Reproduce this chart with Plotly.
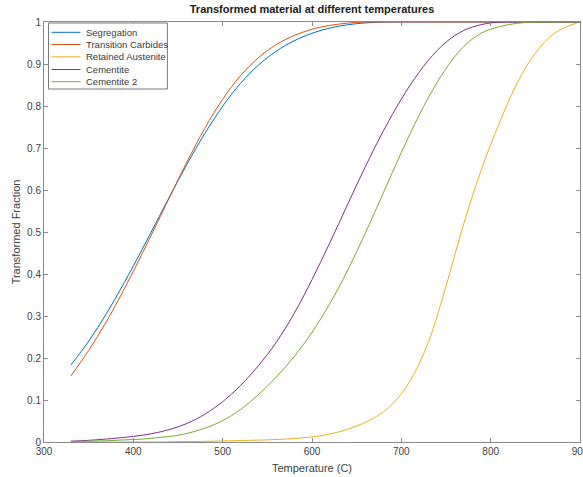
import plotly.graph_objects as go

# ---- data ----
temperature = [330, 350, 370, 390, 410, 430, 450, 470, 490, 510, 530, 550, 570, 590, 610,
               630, 650, 670, 690, 710, 730, 750, 770, 790, 810, 830, 850, 870, 890, 900]

segregation = [0.183, 0.240, 0.306, 0.380, 0.459, 0.541, 0.622, 0.699, 0.768, 0.828,
               0.877, 0.915, 0.944, 0.965, 0.980, 0.990, 0.996, 0.999, 1.0, 1.0,
               1.0, 1.0, 1.0, 1.0, 1.0, 1.0, 1.0, 1.0, 1.0, 1.0]

transition_carbides = [0.157, 0.218, 0.287, 0.365, 0.449, 0.536, 0.624, 0.708, 0.783, 0.846,
                       0.895, 0.932, 0.958, 0.976, 0.988, 0.995, 0.999, 1.0, 1.0, 1.0,
                       1.0, 1.0, 1.0, 1.0, 1.0, 1.0, 1.0, 1.0, 1.0, 1.0]

retained_austenite = [0.0, 0.0, 0.0, 0.0, 0.0, 0.0, 0.001, 0.001, 0.002, 0.003,
                      0.004, 0.005, 0.007, 0.010, 0.015, 0.024, 0.038, 0.058, 0.090, 0.146,
                      0.236, 0.371, 0.521, 0.651, 0.761, 0.856, 0.926, 0.971, 0.993, 1.0]

cementite = [0.002, 0.004, 0.007, 0.011, 0.016, 0.024, 0.036, 0.054, 0.080, 0.114,
             0.157, 0.208, 0.270, 0.345, 0.430, 0.520, 0.612, 0.700, 0.780, 0.850,
             0.908, 0.952, 0.980, 0.994, 1.0, 1.0, 1.0, 1.0, 1.0, 1.0]

cementite_2 = [0.001, 0.002, 0.003, 0.005, 0.007, 0.011, 0.016, 0.026, 0.041, 0.063,
               0.094, 0.133, 0.178, 0.231, 0.294, 0.368, 0.453, 0.546, 0.642, 0.735,
               0.819, 0.889, 0.942, 0.974, 0.989, 0.997, 1.0, 1.0, 1.0, 1.0]

series_names = ["Segregation", "Transition Carbides", "Retained Austenite", "Cementite", "Cementite 2"]
series_values = [segregation, transition_carbides, retained_austenite, cementite, cementite_2]
series_colors = ["#0072BD", "#D95319", "#EDB120", "#7E2F8E", "#77AC30"]

x_ticks = [300, 400, 500, 600, 700, 800, 900]
y_ticks = [0, 0.1, 0.2, 0.3, 0.4, 0.5, 0.6, 0.7, 0.8, 0.9, 1]
y_tick_labels = ["0", "0.1", "0.2", "0.3", "0.4", "0.5", "0.6", "0.7", "0.8", "0.9", "1"]

FONT = "Liberation Sans, Arial, Helvetica, sans-serif"
AXIS_COLOR = "#8a8a8a"
TEXT_COLOR = "#404040"

fig = go.Figure()
for name, vals, col in zip(series_names, series_values, series_colors):
    fig.add_trace(go.Scatter(x=temperature, y=vals, name=name, mode="lines",
                             line=dict(color=col, width=1, shape="spline", smoothing=1.0),
                             showlegend=False))

# ---- manual MATLAB-style compact legend (paper coords of the plot area) ----
W, H = 536.5, 420.0
def px(x):
    return (x - 43.5) / W
def py(y):
    return 1 - (y - 22) / H

shapes = [dict(type="rect", xref="paper", yref="paper",
               x0=px(48), x1=px(167), y0=py(89), y1=py(23),
               line=dict(color="#7a7a7a", width=1), fillcolor="white", layer="above")]
annotations = []
entry_y = [32.3, 44.5, 56.8, 69.5, 81.7]
for name, col, ey in zip(series_names, series_colors, entry_y):
    shapes.append(dict(type="line", xref="paper", yref="paper",
                       x0=px(51), x1=px(80), y0=py(ey), y1=py(ey),
                       line=dict(color=col, width=1), layer="above"))
    annotations.append(dict(xref="paper", yref="paper", x=px(84), y=py(ey),
                            text=name, showarrow=False, xanchor="left", yanchor="middle",
                            font=dict(family=FONT, size=9.5, color="#3a3a3a")))

fig.update_layout(
    width=583, height=477,
    margin=dict(l=43.5, r=3, t=22, b=35, autoexpand=False),
    paper_bgcolor="white", plot_bgcolor="white",
    title=dict(text="Transformed material at different temperatures",
               x=0.5, xref="paper", xanchor="center",
               y=1 - 9.5 / 477, yref="container", yanchor="middle",
               font=dict(family=FONT, size=11, color="#1a1a1a", weight="bold")),
    font=dict(family=FONT, size=10, color=TEXT_COLOR),
    shapes=shapes, annotations=annotations,
    showlegend=False,
)

fig.update_xaxes(range=[300, 900], tickvals=x_ticks, ticktext=[str(t) for t in x_ticks],
                 ticks="inside", ticklen=4, tickcolor=AXIS_COLOR, tickwidth=1,
                 showline=True, linecolor=AXIS_COLOR, linewidth=1, mirror="ticks",
                 showgrid=False, zeroline=False, ticklabeloverflow="allow",
                 tickfont=dict(family=FONT, size=10, color=TEXT_COLOR),
                 title=dict(text="Temperature (C)", standoff=8,
                            font=dict(family=FONT, size=11, color=TEXT_COLOR)))
fig.update_yaxes(range=[0, 1], tickvals=y_ticks, ticktext=y_tick_labels,
                 ticks="inside", ticklen=4, tickcolor=AXIS_COLOR, tickwidth=1,
                 showline=True, linecolor=AXIS_COLOR, linewidth=1, mirror="ticks",
                 showgrid=False, zeroline=False,
                 tickfont=dict(family=FONT, size=10, color=TEXT_COLOR),
                 title=dict(text="Transformed Fraction", standoff=4,
                            font=dict(family=FONT, size=11, color=TEXT_COLOR)))

fig.write_html("out.html")
